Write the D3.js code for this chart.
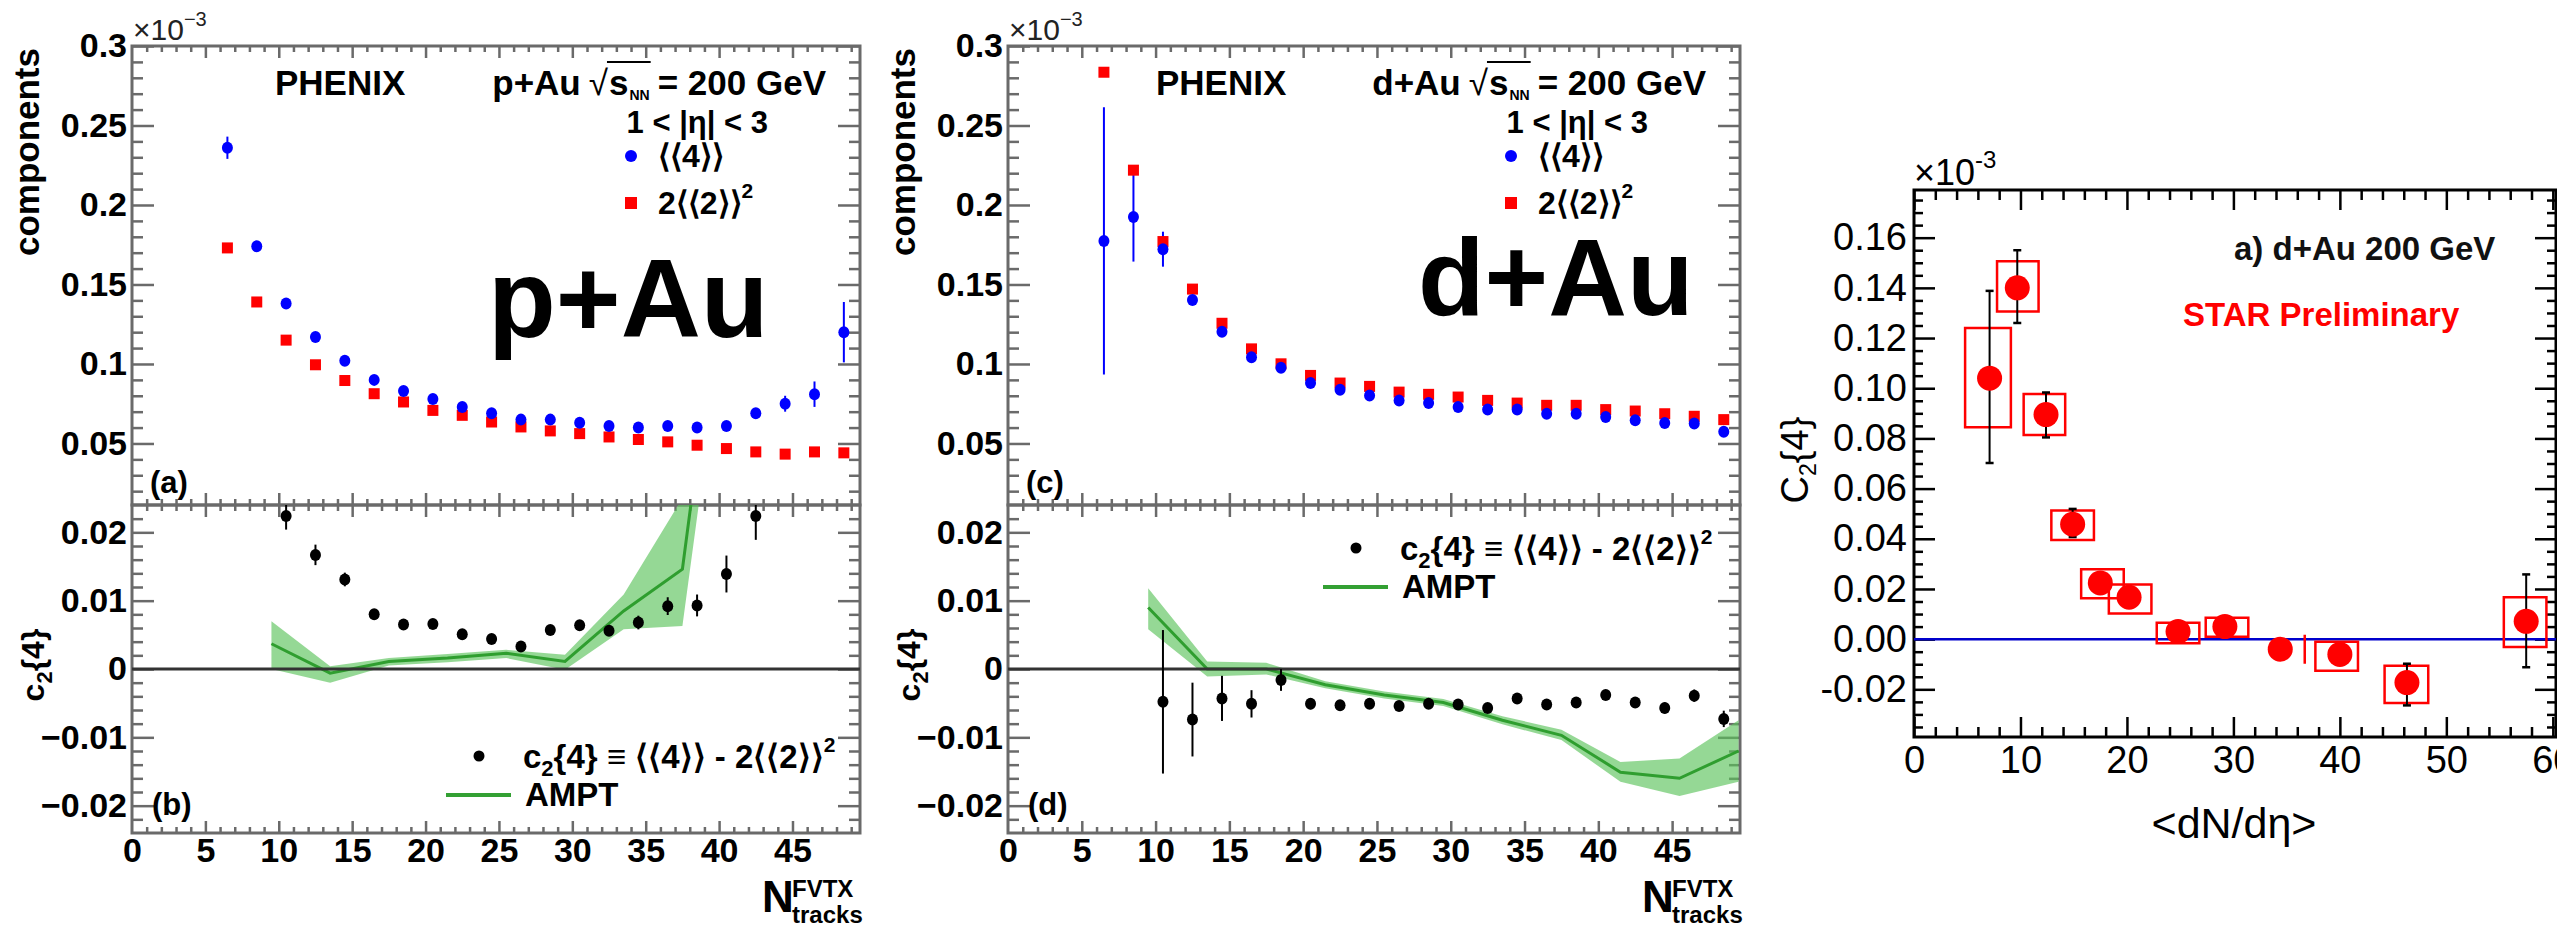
<!DOCTYPE html>
<html><head><meta charset="utf-8">
<script src="https://cdn.jsdelivr.net/npm/d3@7"></script>
<style>body{margin:0;background:#fff}svg{display:block}</style>
</head><body><script>
// ===================== DATA =====================
// PHENIX bins (N_tracks^FVTX)
const nBins = [6.5,8.5,10.5,12.5,14.5,16.5,18.5,20.5,22.5,24.5,26.5,28.5,30.5,32.5,34.5,36.5,38.5,40.5,42.5,44.5,46.5,48.5];
// p+Au <<4>> and 2<<2>>^2  (x10^-3)
const pAuFour    = [0.236,0.174,0.138,0.117,0.102,0.090,0.083,0.078,0.073,0.069,0.065,0.065,0.063,0.061,0.060,0.061,0.060,0.061,0.069,0.075,0.081,0.120];
const pAuFourErr = [0.007,0.003,0.002,0.002,0.0015,0.0015,0.0015,0.0015,0.0015,0.0015,0.0015,0.0015,0.0015,0.0015,0.0015,0.0015,0.0015,0.002,0.003,0.005,0.008,0.019];
const pAuTwo     = [0.173,0.139,0.115,0.0995,0.0896,0.0813,0.0761,0.0708,0.0677,0.0635,0.0604,0.0579,0.0562,0.0541,0.0525,0.051,0.0489,0.0468,0.0447,0.0433,0.0447,0.0441];
// p+Au c2{4}
const pAuC24X   = [10.5,12.5,14.5,16.5,18.5,20.5,22.5,24.5,26.5,28.5,30.5,32.5,34.5,36.5,38.5,40.5,42.5];
const pAuC24    = [0.0224,0.0167,0.0131,0.0080,0.0065,0.0066,0.0051,0.0044,0.0033,0.0057,0.0064,0.0056,0.0068,0.0092,0.0093,0.0139,0.0224];
const pAuC24Err = [0.002,0.0015,0.001,0.0006,0.0005,0.0005,0.0005,0.0005,0.0005,0.0005,0.0006,0.0007,0.001,0.0013,0.0016,0.0027,0.0035];
// p+Au AMPT
const pAuAmptX  = [9.5,13.5,17.5,21.5,25.5,29.5,33.5,37.5,41.5];
const pAuAmpt   = [0.0037,-0.0006,0.0011,0.0016,0.0023,0.0011,0.0085,0.0146,0.080];
const pAuAmptLo = [0.0,-0.0020,0.0005,0.0010,0.0016,-0.0001,0.0058,0.0063,0.070];
const pAuAmptHi = [0.0070,0.0004,0.0016,0.0022,0.0028,0.0021,0.0109,0.025,0.090];
// d+Au <<4>> and 2<<2>>^2
const dAuFour    = [0.1774,0.1924,0.1722,0.1402,0.1203,0.1043,0.0976,0.0880,0.0838,0.0802,0.0771,0.0754,0.0729,0.0713,0.0713,0.0687,0.0687,0.0667,0.0646,0.0629,0.0625,0.0573];
const dAuFourErr = [0.084,0.028,0.011,0.003,0.002,0.002,0.0015,0.0015,0.0015,0.0015,0.0015,0.0015,0.0015,0.0015,0.0015,0.0015,0.0015,0.0015,0.0015,0.0015,0.0015,0.0015];
const dAuTwo     = [0.2835,0.2219,0.1770,0.1471,0.1256,0.1095,0.1001,0.0928,0.0880,0.0859,0.0823,0.0809,0.0792,0.0771,0.0754,0.0740,0.0740,0.0713,0.0704,0.0687,0.0671,0.0650];
// d+Au c2{4}
const dAuC24X   = [10.5,12.5,14.5,16.5,18.5,20.5,22.5,24.5,26.5,28.5,30.5,32.5,34.5,36.5,38.5,40.5,42.5,44.5,46.5,48.5];
const dAuC24    = [-0.0048,-0.0074,-0.0043,-0.0051,-0.0016,-0.0051,-0.0053,-0.0051,-0.0054,-0.0051,-0.0052,-0.0057,-0.0043,-0.0052,-0.0049,-0.0038,-0.0049,-0.0057,-0.0039,-0.0073];
const dAuC24Err = [0.0105,0.0054,0.0033,0.002,0.0016,0.0008,0.0007,0.0007,0.0007,0.0007,0.0007,0.0007,0.0007,0.0007,0.0007,0.0007,0.0008,0.0008,0.0009,0.0012];
// d+Au AMPT
const dAuAmptX  = [9.5,13.5,17.5,21.5,25.5,29.5,33.5,37.5,41.5,45.5,49.5];
const dAuAmpt   = [0.0090,0.0,0.0,-0.0023,-0.0038,-0.0049,-0.0075,-0.0097,-0.0151,-0.0160,-0.0120];
const dAuAmptLo = [0.0058,-0.0011,-0.0008,-0.0028,-0.0043,-0.0054,-0.0081,-0.0104,-0.0165,-0.0186,-0.0165];
const dAuAmptHi = [0.0118,0.0011,0.0009,-0.0018,-0.0033,-0.0044,-0.0069,-0.0089,-0.0136,-0.0131,-0.0075];
// STAR d+Au C2{4}
const starX     = [7.1,9.7,12.4,14.9,17.5,20.2,24.8,29.2,34.4,40.0,46.3,57.5];
const starY     = [0.104,0.140,0.0895,0.0458,0.0224,0.0167,0.003,0.005,-0.004,-0.0061,-0.0173,0.0071];
const starStatLo= [0.0702,0.126,0.0804,0.0407,0.0194,0.0137,0.0,0.002,-0.007,-0.0091,-0.0264,-0.0112];
const starStatHi= [0.1388,0.155,0.0983,0.0519,0.0254,0.0197,0.006,0.0085,-0.001,-0.0031,-0.0098,0.0258];
const starSysX0 = [4.8,7.8,10.3,12.9,15.7,18.3,22.8,27.4,36.7,37.7,44.2,55.4];
const starSysX1 = [9.1,11.7,14.2,16.9,19.7,22.3,26.8,31.4,36.7,41.7,48.3,59.4];
const starSysY0 = [0.0844,0.1306,0.0814,0.0395,0.0163,0.0102,-0.0016,0.001,-0.0098,-0.0126,-0.0254,-0.0031];
const starSysY1 = [0.124,0.1506,0.0977,0.0513,0.0279,0.0218,0.0065,0.0085,0.0018,-0.001,-0.0106,0.0167];

// tick labels
const phXTicks = [0,5,10,15,20,25,30,35,40,45];
const phXLabels = ["0","5","10","15","20","25","30","35","40","45"];
const phUpYTicks = [0.05,0.1,0.15,0.2,0.25,0.3];
const phUpYLabels = ["0.05","0.1","0.15","0.2","0.25","0.3"];
const phLoYTicks = [-0.02,-0.01,0,0.01,0.02];
const phLoYLabels = ["\u22120.02","\u22120.01","0","0.01","0.02"];
const starXTicks = [0,10,20,30,40,50,60];
const starXLabels = ["0","10","20","30","40","50","60"];
const starYTicks = [-0.02,0,0.02,0.04,0.06,0.08,0.10,0.12,0.14,0.16];
const starYLabels = ["-0.02","0.00","0.02","0.04","0.06","0.08","0.10","0.12","0.14","0.16"];

// ===================== DRAW =====================
const FONT = '"Liberation Sans", Arial, Helvetica, sans-serif';
const svg = d3.select("body").append("svg").attr("width",2575).attr("height",927)
  .attr("font-family",FONT);
const defs = svg.append("defs");
let clipN = 0;
function clip(x,y,w,h){const id="c"+(clipN++);defs.append("clipPath").attr("id",id).append("rect").attr("x",x).attr("y",y).attr("width",w).attr("height",h);return "url(#"+id+")";}

function ticks(g, axisFn, scale, values, len, tr, color, w){
  const gg = g.append("g").attr("transform",tr)
    .call(axisFn(scale).tickValues(values).tickSize(-len).tickFormat(""));
  gg.select(".domain").remove();
  gg.selectAll("line").attr("stroke",color).attr("stroke-width",w);
}
function labels(g, axisFn, scale, values, labs, pad, tr, fs, weight){
  const gg = g.append("g").attr("transform",tr)
    .call(axisFn(scale).tickValues(values).tickSize(0).tickPadding(pad).tickFormat((d,i)=>labs[i]));
  gg.select(".domain").remove();
  gg.attr("font-family",FONT).attr("font-size",fs).attr("font-weight",weight);
  gg.selectAll("text").attr("fill","#000");
  return gg;
}
const rnd = v => Math.round(v*100000)/100000;
function minors(a,b,step,majStep){return d3.range(Math.round(a/step),Math.round(b/step)+1).map(k=>rnd(k*step)).filter(v=>Math.abs(v/majStep-Math.round(v/majStep))>1e-6);}

const PH_TOP=46, PH_MID=505, PH_BOT=833;
const FR = "#6a6a6a";
const phxMinor = minors(0,49,1,5);
const upMinor = minors(0.02,0.29,0.01,0.05);
const loMinor = minors(-0.022,0.022,0.002,0.01);

function phenixPanel(L, R, sys, four, fourErr, two, c24x, c24, c24err, ax, ay, alo, ahi, cfg){
  const g = svg.append("g");
  const x = d3.scaleLinear().domain([0,49.6]).range([L,R]);
  const yU = d3.scaleLinear().domain([0.0113,0.3]).range([PH_MID,PH_TOP]);
  const yL = d3.scaleLinear().domain([-0.024,0.024]).range([PH_BOT,PH_MID]);
  // ticks upper
  ticks(g,d3.axisLeft,yU,phUpYTicks,22,`translate(${L},0)`,FR,2.5);
  ticks(g,d3.axisLeft,yU,upMinor,11,`translate(${L},0)`,FR,2.5);
  ticks(g,d3.axisRight,yU,phUpYTicks,22,`translate(${R},0)`,FR,2.5);
  ticks(g,d3.axisRight,yU,upMinor,11,`translate(${R},0)`,FR,2.5);
  ticks(g,d3.axisTop,x,phXTicks.filter(v=>v>0),12,`translate(0,${PH_TOP})`,FR,2.5);
  ticks(g,d3.axisTop,x,phxMinor,6,`translate(0,${PH_TOP})`,FR,2.5);
  ticks(g,d3.axisBottom,x,phXTicks.filter(v=>v>0),12,`translate(0,${PH_MID})`,FR,2.5);
  ticks(g,d3.axisBottom,x,phxMinor,6,`translate(0,${PH_MID})`,FR,2.5);
  // ticks lower
  ticks(g,d3.axisLeft,yL,phLoYTicks,22,`translate(${L},0)`,FR,2.5);
  ticks(g,d3.axisLeft,yL,loMinor,11,`translate(${L},0)`,FR,2.5);
  ticks(g,d3.axisRight,yL,phLoYTicks,22,`translate(${R},0)`,FR,2.5);
  ticks(g,d3.axisRight,yL,loMinor,11,`translate(${R},0)`,FR,2.5);
  ticks(g,d3.axisTop,x,phXTicks.filter(v=>v>0),12,`translate(0,${PH_MID})`,FR,2.5);
  ticks(g,d3.axisTop,x,phxMinor,6,`translate(0,${PH_MID})`,FR,2.5);
  ticks(g,d3.axisBottom,x,phXTicks.filter(v=>v>0),12,`translate(0,${PH_BOT})`,FR,2.5);
  ticks(g,d3.axisBottom,x,phxMinor,6,`translate(0,${PH_BOT})`,FR,2.5);
  // frames
  g.append("rect").attr("x",L).attr("y",PH_TOP).attr("width",R-L).attr("height",PH_MID-PH_TOP).attr("fill","none").attr("stroke",FR).attr("stroke-width",3);
  g.append("rect").attr("x",L).attr("y",PH_MID).attr("width",R-L).attr("height",PH_BOT-PH_MID).attr("fill","none").attr("stroke",FR).attr("stroke-width",3);
  // labels
  labels(g,d3.axisLeft,yU,phUpYTicks,phUpYLabels,5,`translate(${L},0)`,34,"bold");
  labels(g,d3.axisLeft,yL,phLoYTicks,phLoYLabels,5,`translate(${L},0)`,34,"bold");
  labels(g,d3.axisBottom,x,phXTicks,phXLabels,5,`translate(0,${PH_BOT})`,34,"bold");
  const exp = g.append("text").attr("x",L+1).attr("y",40).attr("font-size",30).attr("fill","#222");
  exp.append("tspan").text("\u00d710");
  exp.append("tspan").attr("font-size",20).attr("dy",-14).text("\u22123");
  g.append("text").attr("transform",`translate(${L-93},${PH_TOP+2}) rotate(-90)`).attr("text-anchor","end")
    .attr("font-size",35).attr("font-weight","bold").text("components");
  const yl = g.append("text").attr("transform",`translate(${L-88},665) rotate(-90)`).attr("text-anchor","middle")
    .attr("font-size",32).attr("font-weight","bold");
  yl.append("tspan").text("c");
  yl.append("tspan").attr("font-size",22).attr("dy",8).text("2");
  yl.append("tspan").attr("dy",-8).text("{4}");
  // N tracks
  g.append("text").attr("x",R-98).attr("y",912).attr("font-size",44).attr("font-weight","bold").text("N");
  g.append("text").attr("x",R-68).attr("y",897).attr("font-size",24).attr("font-weight","bold").text("FVTX");
  g.append("text").attr("x",R-68).attr("y",923).attr("font-size",24).attr("font-weight","bold").text("tracks");
  // panel tags
  g.append("text").attr("x",L+18).attr("y",493).attr("font-size",31).attr("font-weight","bold").text(cfg.tagU);
  g.append("text").attr("x",L+20).attr("y",815).attr("font-size",31).attr("font-weight","bold").text(cfg.tagL);
  // header (pieces laid right-to-left)
  const HB = 95;
  g.append("text").attr("x",L+cfg.phx).attr("y",HB).attr("font-size",35).attr("font-weight","bold").text("PHENIX");
  let xr = R-34;
  const tEq = g.append("text").attr("x",xr).attr("y",HB).attr("text-anchor","end").attr("font-size",35).attr("font-weight","bold").text("= 200 GeV");
  xr -= tEq.node().getComputedTextLength() + 8;
  const tNN = g.append("text").attr("x",xr).attr("y",HB+5).attr("text-anchor","end").attr("font-size",14).attr("font-weight","bold").text("NN");
  const nnEnd = xr;
  xr -= tNN.node().getComputedTextLength() + 1;
  const tS = g.append("text").attr("x",xr).attr("y",HB).attr("text-anchor","end").attr("font-size",35).attr("font-weight","bold").text("s");
  xr -= tS.node().getComputedTextLength() + 1;
  g.append("line").attr("x1",xr-1).attr("x2",nnEnd+1).attr("y1",HB-33).attr("y2",HB-33).attr("stroke","#000").attr("stroke-width",2);
  const tR = g.append("text").attr("x",xr).attr("y",HB).attr("text-anchor","end").attr("font-size",35).text("\u221a");
  xr -= tR.node().getComputedTextLength() + 8;
  g.append("text").attr("x",xr).attr("y",HB).attr("text-anchor","end").attr("font-size",35).attr("font-weight","bold").text(sys);
  g.append("text").attr("x",R-92).attr("y",133).attr("text-anchor","end").attr("font-size",31).attr("font-weight","bold").text("1 < |\u03b7| < 3");
  // legend upper
  g.append("circle").attr("cx",R-229).attr("cy",156).attr("r",6).attr("fill","#0000ff");
  g.append("text").attr("x",R-202).attr("y",167).attr("font-size",32).attr("font-weight","bold").text("\u27e8\u27e84\u27e9\u27e9");
  g.append("rect").attr("x",R-235).attr("y",197).attr("width",12).attr("height",12).attr("fill","#ff0000");
  const l2 = g.append("text").attr("x",R-202).attr("y",214).attr("font-size",32).attr("font-weight","bold");
  l2.append("tspan").text("2\u27e8\u27e82\u27e9\u27e9");
  l2.append("tspan").attr("font-size",21).attr("dy",-16).text("2");
  // big label
  g.append("text").attr("x",cfg.bigX).attr("y",cfg.bigY).attr("font-size",cfg.bigFs).attr("font-weight","bold").text(cfg.big);
  // lower legend
  g.append("circle").attr("cx",cfg.lgX).attr("cy",cfg.lgY).attr("r",5.5).attr("fill","#000");
  const lc = g.append("text").attr("x",cfg.lgX+44).attr("y",cfg.lgY+12).attr("font-size",33).attr("font-weight","bold");
  lc.append("tspan").text("c");
  lc.append("tspan").attr("font-size",22).attr("dy",8).text("2");
  lc.append("tspan").attr("dy",-8).text("{4} \u2261 \u27e8\u27e84\u27e9\u27e9 - 2\u27e8\u27e82\u27e9\u27e9");
  lc.append("tspan").attr("font-size",21).attr("dy",-16).text("2");
  g.append("line").attr("x1",cfg.lgX-33).attr("x2",cfg.lgX+32).attr("y1",cfg.lgY+39).attr("y2",cfg.lgY+39).attr("stroke","#33a033").attr("stroke-width",4);
  g.append("text").attr("x",cfg.lgX+46).attr("y",cfg.lgY+50).attr("font-size",33).attr("font-weight","bold").text("AMPT");

  // ---- data upper
  const du = g.append("g").attr("clip-path",clip(L,PH_TOP,R-L,PH_MID-PH_TOP));
  du.selectAll(".eb").data(nBins).join("line").attr("x1",d=>x(d)).attr("x2",d=>x(d))
    .attr("y1",(d,i)=>yU(four[i]-fourErr[i])).attr("y2",(d,i)=>yU(four[i]+fourErr[i])).attr("stroke","#0000ff").attr("stroke-width",2);
  du.selectAll(".sq").data(nBins).join("rect").attr("x",d=>x(d)-5.5).attr("y",(d,i)=>yU(two[i])-5.5).attr("width",11).attr("height",11).attr("fill","#ff0000");
  du.selectAll(".ci").data(nBins).join("ellipse").attr("cx",d=>x(d)).attr("cy",(d,i)=>yU(four[i])).attr("rx",5.5).attr("ry",6).attr("fill","#0000ff");
  // ---- data lower
  const dl = g.append("g").attr("clip-path",clip(L,PH_MID,R-L,PH_BOT-PH_MID));
  const band = d3.area().x((d,i)=>x(ax[i])).y0((d,i)=>yL(alo[i])).y1((d,i)=>yL(ahi[i]));
  dl.append("path").datum(ax).attr("d",band).attr("fill","#5cc35c").attr("fill-opacity",0.65);
  const line = d3.line().x((d,i)=>x(ax[i])).y((d,i)=>yL(ay[i]));
  dl.append("path").datum(ax).attr("d",line).attr("fill","none").attr("stroke","#2f9e2f").attr("stroke-width",3);
  dl.append("line").attr("x1",L).attr("x2",R).attr("y1",yL(0)).attr("y2",yL(0)).attr("stroke","#333").attr("stroke-width",3);
  dl.selectAll(".eb").data(c24x).join("line").attr("x1",d=>x(d)).attr("x2",d=>x(d))
    .attr("y1",(d,i)=>yL(c24[i]-c24err[i])).attr("y2",(d,i)=>yL(c24[i]+c24err[i])).attr("stroke","#000").attr("stroke-width",2);
  dl.selectAll(".pt").data(c24x).join("ellipse").attr("cx",d=>x(d)).attr("cy",(d,i)=>yL(c24[i])).attr("rx",5.5).attr("ry",6).attr("fill","#000");
}

phenixPanel(132,860,"p+Au",pAuFour,pAuFourErr,pAuTwo,pAuC24X,pAuC24,pAuC24Err,pAuAmptX,pAuAmpt,pAuAmptLo,pAuAmptHi,
  {tagU:"(a)",tagL:"(b)",phx:143,big:"p+Au",bigX:488,bigY:337,bigFs:111,lgX:479,lgY:756});
phenixPanel(1008,1740,"d+Au",dAuFour,dAuFourErr,dAuTwo,dAuC24X,dAuC24,dAuC24Err,dAuAmptX,dAuAmpt,dAuAmptLo,dAuAmptHi,
  {tagU:"(c)",tagL:"(d)",phx:148,big:"d+Au",bigX:1418,bigY:315,bigFs:109,lgX:1356,lgY:548});

// ===================== STAR panel =====================
(function(){
  const L=1914,R=2556,T=190,B=737;
  const g = svg.append("g").attr("clip-path",clip(0,0,2557,927));
  const x = d3.scaleLinear().domain([0,60.3]).range([L,R]);
  const y = d3.scaleLinear().domain([-0.039,0.179]).range([B,T]);
  const yMin = minors(-0.035,0.175,0.005,0.02);
  const xMin = minors(2,58,2,10);
  ticks(g,d3.axisLeft,y,starYTicks,21,`translate(${L},0)`,"#000",2.5);
  ticks(g,d3.axisLeft,y,yMin,9,`translate(${L},0)`,"#000",2.5);
  ticks(g,d3.axisRight,y,starYTicks,21,`translate(${R},0)`,"#000",2.5);
  ticks(g,d3.axisRight,y,yMin,9,`translate(${R},0)`,"#000",2.5);
  ticks(g,d3.axisTop,x,starXTicks,20,`translate(0,${T})`,"#000",2.5);
  ticks(g,d3.axisTop,x,xMin,10,`translate(0,${T})`,"#000",2.5);
  ticks(g,d3.axisBottom,x,starXTicks,20,`translate(0,${B})`,"#000",2.5);
  ticks(g,d3.axisBottom,x,xMin,10,`translate(0,${B})`,"#000",2.5);
  g.append("rect").attr("x",L).attr("y",T).attr("width",R-L).attr("height",B-T).attr("fill","none").attr("stroke","#000").attr("stroke-width",3);
  labels(g,d3.axisLeft,y,starYTicks,starYLabels,7,`translate(${L},0)`,38,"normal");
  labels(g,d3.axisBottom,x,starXTicks,starXLabels,9,`translate(0,${B})`,38,"normal");
  const exp = g.append("text").attr("x",L).attr("y",185).attr("font-size",36);
  exp.append("tspan").text("\u00d710");
  exp.append("tspan").attr("font-size",24).attr("dy",-17).text("-3");
  const yl = g.append("text").attr("transform",`translate(1808,460) rotate(-90)`).attr("text-anchor","middle").attr("font-size",38);
  yl.append("tspan").text("C");
  yl.append("tspan").attr("font-size",23).attr("dy",8).text("2");
  yl.append("tspan").attr("dy",-8).text("{4}");
  g.append("text").attr("x",2234).attr("y",838).attr("text-anchor","middle").attr("font-size",43).text("<dN/d\u03b7>");
  g.append("text").attr("x",2234).attr("y",260).attr("font-size",33).attr("font-weight","bold").attr("fill","#111").text("a) d+Au 200 GeV");
  g.append("text").attr("x",2183).attr("y",326).attr("font-size",33).attr("font-weight","bold").attr("fill","#ff0000").text("STAR Preliminary");

  const d = g.append("g").attr("clip-path",clip(L,T,R-L,B-T));
  d.append("line").attr("x1",L).attr("x2",R).attr("y1",y(0)).attr("y2",y(0)).attr("stroke","#0000cc").attr("stroke-width",2.5);
  d.selectAll(".sys").data(starX).join("path")
    .attr("d",(v,i)=>{const x0=x(starSysX0[i]),x1=x(starSysX1[i]),y0=y(starSysY0[i]),y1=y(starSysY1[i]);
      return `M${x0},${y1}H${x1}V${y0}H${x0}Z`;})
    .attr("fill","none").attr("stroke","#ff0000").attr("stroke-width",2.5);
  d.selectAll(".st").data(starX).join("line").attr("x1",v=>x(v)).attr("x2",v=>x(v))
    .attr("y1",(v,i)=>y(starStatLo[i])).attr("y2",(v,i)=>y(starStatHi[i])).attr("stroke","#000").attr("stroke-width",2);
  d.selectAll(".cl").data(starX).join("line").attr("x1",v=>x(v)-4).attr("x2",v=>x(v)+4)
    .attr("y1",(v,i)=>y(starStatLo[i])).attr("y2",(v,i)=>y(starStatLo[i])).attr("stroke","#000").attr("stroke-width",2.5);
  d.selectAll(".ch").data(starX).join("line").attr("x1",v=>x(v)-4).attr("x2",v=>x(v)+4)
    .attr("y1",(v,i)=>y(starStatHi[i])).attr("y2",(v,i)=>y(starStatHi[i])).attr("stroke","#000").attr("stroke-width",2.5);
  d.selectAll(".pt").data(starX).join("circle").attr("cx",v=>x(v)).attr("cy",(v,i)=>y(starY[i])).attr("r",12.5).attr("fill","#ff0000");
})();
</script></body></html>
